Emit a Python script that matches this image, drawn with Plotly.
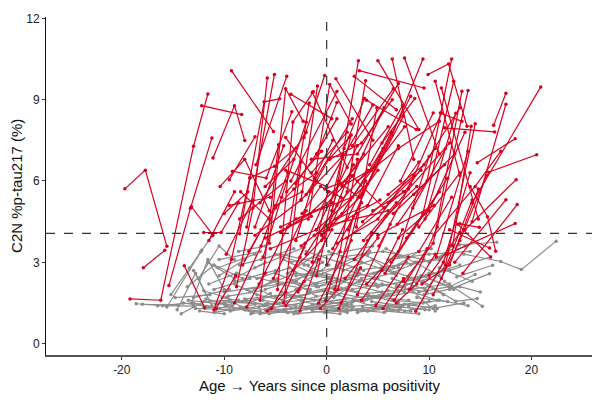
import plotly.graph_objects as go

# red = plasma-positive participants, grey = negative; one list per participant
red_years = [
    [-19.7, -17.7, -15.6], [-17.9, -15.8], [-19.2, -16.2, -13.0, -11.6], [-15.4, -13.3, -11.2],
    [-13.9, -11.9], [-12.2, -8.3], [-11.1, -9.0, -8.0], [-9.3, -5.2], [-13.2, -11.1],
    [-11.0, -9.3, -7.5], [-9.5, -7.0], [-8.8, -7.2, -5.8], [-7.8, -5.1], [-6.9, -3.9],
    [-9.2, -5.9, -3.4], [-10.0, -7.7], [-8.5, -6.1, -4.6], [-12.0, -10.3, -8.6], [-6.5, -4.7],
    [-7.5, -5.1, -3.0], [-5.6, -4.0, -2.3], [-10.8, -8.9], [-8.2, -6.4], [-6.2, -4.4, -2.0],
    [-4.8, -3.3, -1.3], [-3.6, -1.7], [-5.0, -3.2, -1.0], [-4.2, -2.5], [-3.0, -1.2, 0.6],
    [-2.5, -0.9], [-2.2, -0.2], [-1.8, 0.3, 2.4], [-1.0, 0.9, 3.1], [-0.5, 1.6],
    [0.2, 2.0, 3.8], [3.2, 9.5], [9.9, 11.9, 13.7], [11.1, 13.2], [11.5, 16.4],
    [16.3, 17.5], [14.2, 17.5], [15.8, 20.5], [14.7, 18.4], [14.2, 20.9], [13.5, 18.5],
    [-5.2, -2.0], [-4.5, -1.6, 1.4], [-3.9, -0.5], [-3.3, -0.3, 2.6], [-2.8, 0.5],
    [-2.0, 1.0, 4.0], [-1.5, 2.0], [-1.2, 2.0, 5.2], [-0.8, 2.4], [-0.4, 2.6, 5.6],
    [0.0, 3.4], [0.3, 3.4, 6.4], [0.6, 3.8], [0.9, 4.0, 7.0], [1.2, 4.4], [1.5, 4.6, 7.6],
    [1.8, 5.0], [2.1, 5.2, 8.2], [2.4, 5.6], [2.7, 5.8, 8.8], [3.0, 6.2], [3.3, 6.4, 9.4],
    [3.6, 6.8], [3.9, 7.0, 10.0], [4.2, 7.4], [4.5, 7.6, 10.6], [4.8, 8.0], [5.1, 8.2, 11.2],
    [5.4, 8.6], [5.7, 8.8, 11.8], [6.0, 9.2], [6.3, 9.4, 12.4], [6.6, 9.8], [6.9, 9.8, 12.2],
    [7.2, 10.4], [7.5, 10.4, 13.2], [7.8, 11.0], [8.1, 10.8, 13.8], [8.4, 11.6],
    [8.7, 11.4, 14.0], [9.0, 12.2], [9.3, 12.0, 14.8], [9.6, 12.6], [10.0, 13.0],
    [10.4, 13.0, 15.6], [10.7, 13.8], [11.2, 14.2], [11.6, 14.5], [12.3, 14.1], [12.8, 16.0],
    [-9.8, -7.2], [-9.0, -6.4, -3.8], [-8.4, -5.6], [-7.6, -5.0, -2.4], [-7.0, -4.2],
    [-6.6, -3.8, -1.2], [-6.0, -3.2], [-5.4, -2.6, 0.2], [-11.5, -9.0], [-10.4, -8.0, -5.6],
    [-3.0, -1.0, 1.0], [-2.4, -0.6, 1.4], [-1.6, 0.2, 2.2], [-0.9, 1.0], [-0.2, 1.8, 3.6],
    [0.5, 2.4], [1.1, 3.1, 5.0], [1.7, 3.7], [2.3, 4.4, 6.3], [2.9, 4.9], [-1.4, 0.1],
    [-0.1, 1.3, 3.0], [0.8, 2.6], [-4.0, -2.2], [-2.6, -0.8], [-0.6, 1.1, 3.0], [1.4, 3.3],
    [3.4, 5.4, 7.4], [5.5, 7.5], [6.8, 8.8, 10.6], [-7.8, -6.0], [-5.8, -4.0, -2.1],
    [-3.5, 0.5], [0.9, 4.5], [5.0, 9.0], [7.6, 11.0], [6.4, 8.5], [2.7, 6.8], [-1.4, 2.0],
    [10.6, 13.0], [11.2, 14.8], [3.9, 8.75], [-4.0, -1.0], [13.3, 18.6], [12.5, 17.5],
    [13.0, 14.9], [11.8, 18.4], [14.0, 15.7, 16.5], [12.0, 15.9],
    [-6.0, -1.5], [-4.5, 0.5], [-3.0, 2.5], [-1.0, 4.0], [0.5, 6.0], [2.0, 7.5], [3.5, 8.5],
    [5.0, 10.5], [6.5, 11.5], [-7.0, -2.5, 1.5], [-5.5, -1.0, 3.0], [-2.5, 1.5, 5.5],
    [-0.5, 3.5, 7.5], [1.0, 5.0, 9.0], [4.0, 8.0, 12.0], [7.0, 10.0, 13.5], [-8.5, -4.0],
    [-6.5, -2.0], [-4.0, 0.0, 4.5], [-2.0, 2.5], [1.5, 6.0], [3.0, 7.0, 11.0],
    [6.0, 9.5, 13.0], [8.5, 12.5], [-1.5, 3.0, 7.0], [2.5, 6.5], [-3.5, 1.0], [9.0, 13.0],
    [10.5, 14.5, 17.0], [-9.5, -5.5],
]
red_ptau = [
    [5.71, 6.40, 3.59], [2.80, 3.44], [1.65, 1.60, 7.28, 9.21], [2.14, 4.99, 7.59],
    [2.87, 1.31], [8.78, 8.45], [6.85, 8.78, 7.49], [10.07, 7.83], [5.05, 4.00],
    [1.25, 3.10, 6.11], [6.05, 7.63], [2.10, 5.00, 9.80], [4.30, 9.93], [6.60, 9.86],
    [6.36, 6.11, 8.55], [4.80, 5.60], [4.05, 8.92, 9.03], [4.10, 4.10, 5.20], [1.60, 7.34],
    [6.11, 6.54, 7.22], [3.70, 9.40, 8.20], [1.30, 2.50], [2.90, 4.20], [3.20, 5.40, 8.17],
    [2.00, 8.18, 9.29], [4.40, 8.88], [5.00, 5.70, 6.30], [1.50, 6.70], [3.80, 6.10, 7.50],
    [5.30, 9.50], [7.60, 9.89], [4.60, 9.56, 8.10], [2.50, 5.50, 10.44], [3.80, 7.00],
    [4.20, 5.60, 9.70], [10.07, 9.43], [9.93, 10.32, 8.02], [8.51, 8.20], [7.96, 7.81],
    [8.06, 9.24], [4.50, 8.83], [6.32, 6.97], [6.67, 7.56], [5.20, 9.47], [4.20, 6.05],
    [2.40, 4.90], [4.10, 4.80, 5.90], [5.60, 7.10], [2.70, 3.90, 6.60], [1.90, 4.20],
    [3.30, 5.10, 6.40], [6.30, 7.80], [4.00, 4.60, 5.30], [1.50, 3.80], [5.00, 6.20, 8.70],
    [2.90, 5.20], [6.80, 7.40, 9.00], [3.50, 6.00], [4.60, 5.10, 7.30], [1.30, 4.10],
    [5.80, 6.50, 8.00], [2.40, 3.90], [4.20, 6.90, 9.13], [6.20, 5.00], [3.10, 4.70, 5.80],
    [1.80, 4.40], [5.40, 7.70, 10.50], [3.80, 5.20], [2.20, 3.40, 6.90], [6.60, 8.78],
    [4.90, 5.60, 7.20], [1.40, 3.20], [3.60, 5.90, 8.51], [7.40, 9.04], [2.60, 4.40, 6.10],
    [5.20, 6.40], [3.00, 4.80, 9.68], [1.60, 3.50], [4.40, 6.00, 10.50], [6.00, 8.51],
    [2.30, 3.70, 9.31], [3.90, 5.60], [2.00, 4.30, 9.34], [5.00, 7.20], [1.19, 3.00, 6.30],
    [3.40, 5.40], [2.20, 2.90, 5.70], [4.60, 8.50], [2.50, 4.10], [1.80, 3.80, 6.20],
    [3.20, 7.10], [2.40, 5.30], [2.90, 8.11], [3.60, 8.02], [4.40, 3.20],
    [3.30, 5.30], [1.50, 3.60, 6.30], [5.60, 4.60], [3.40, 5.10, 5.60], [4.30, 7.30],
    [2.20, 4.30, 4.90], [5.80, 6.80], [1.30, 3.20, 5.60], [3.80, 5.60], [5.80, 6.80, 4.90],
    [5.90, 7.00, 8.30], [4.80, 5.80, 5.40], [5.60, 6.80, 7.60], [7.00, 8.90], [5.70, 6.00, 7.00],
    [4.90, 7.70], [6.00, 5.40, 6.40], [7.20, 9.04], [5.30, 6.40, 7.80], [4.30, 8.70], [3.00, 5.60],
    [1.60, 3.40, 6.80], [2.00, 4.70], [1.40, 2.30], [1.20, 3.10], [1.30, 2.00, 4.80], [1.50, 2.80],
    [1.60, 2.70, 4.20], [1.30, 2.40], [1.50, 2.20, 3.30], [1.35, 2.60], [1.20, 1.90, 3.70],
    [9.20, 8.30], [9.77, 7.50], [10.44, 7.90], [10.54, 7.00], [10.50, 6.80], [9.86, 8.63], [9.27, 6.50],
    [9.68, 6.20], [9.43, 4.60], [8.98, 7.90], [7.60, 6.00], [2.60, 5.13], [3.00, 5.31],
    [4.42, 4.29], [3.30, 4.43], [5.80, 4.68, 3.41], [4.20, 3.53],
    [3.90, 4.70], [4.30, 5.20], [4.60, 5.40], [4.20, 5.90], [4.40, 4.90], [3.90, 5.60], [4.50, 6.20],
    [4.00, 5.10], [4.80, 6.60], [4.00, 5.30, 6.90], [3.50, 4.20, 7.30], [3.60, 4.80, 7.20],
    [4.00, 5.50, 8.40], [3.70, 4.60, 6.70], [3.80, 5.70, 7.40], [3.90, 4.90, 7.80], [4.60, 6.00],
    [5.20, 7.80], [6.40, 5.80, 8.80], [5.50, 8.30], [5.90, 8.00], [6.00, 7.20, 8.20],
    [5.50, 6.60, 8.70], [5.50, 7.00], [6.80, 7.00, 9.60], [7.30, 9.40], [6.00, 9.30], [4.30, 6.30],
    [4.00, 5.80, 7.10], [5.10, 5.40],
]

grey_years = [
    [-18.6, -16.0, -13.0], [-18.0, -14.5], [-14.2, -12.0, -9.5], [-15.2, -13.4, -12.3],
    [-15.6, -12.2, -11.2], [-14.0, -11.5], [-13.0, -10.9, -8.6], [-12.5, -10.5, -9.0],
    [-11.8, -9.2], [-12.0, -9.8, -7.9], [-11.0, -8.5, -6.5], [-10.5, -8.0], [-10.2, -7.5, -5.5],
    [-9.8, -7.2], [-9.0, -6.8, -4.3], [-8.6, -6.0], [-8.0, -5.6, -3.5], [-7.5, -4.8],
    [-7.0, -4.5, -2.2], [-6.6, -4.0], [-6.0, -3.4, -1.0], [-5.5, -2.8], [-5.0, -2.5, 0.2],
    [-4.6, -1.8], [-4.2, -1.5, 1.0], [-3.8, -1.2], [-3.4, -0.8, 1.6], [-3.0, -0.4],
    [-2.6, 0.0, 2.4], [-2.2, 0.6], [-1.8, 0.9, 3.2], [-1.4, 1.3], [-1.0, 1.7, 4.0],
    [-0.6, 2.0], [-0.2, 2.6, 5.0], [0.3, 3.0], [0.7, 3.4, 5.8], [1.2, 4.0], [1.6, 4.5, 6.8],
    [2.0, 5.0], [2.5, 5.4, 7.6], [3.0, 6.0], [3.5, 6.5, 9.0], [4.0, 7.0], [4.6, 7.6, 10.0],
    [5.2, 8.2], [5.8, 8.6, 11.0], [6.4, 9.4], [7.0, 10.0, 12.4], [7.6, 10.6],
    [8.2, 11.2, 13.5], [8.8, 11.8], [9.4, 12.6, 14.7], [10.0, 13.0], [10.8, 12.2, 16.6],
    [11.5, 15.2], [12.7, 16.2], [13.4, 17.0, 19.0, 22.4], [12.0, 15.9], [9.0, 12.0, 14.5],
    [-13.5, -10.0], [-12.8, -9.5, -7.0], [-11.5, -8.8], [-10.8, -7.8, -5.2], [-10.0, -6.6],
    [-9.4, -6.2, -3.8], [-8.8, -5.4], [-8.2, -5.0, -2.6], [-7.4, -4.2], [-6.8, -3.6, -1.2],
    [-6.2, -3.0], [-5.6, -2.4, 0.0], [-5.0, -1.8], [-4.4, -1.2, 1.2], [-3.8, -0.6],
    [-3.2, 0.0, 2.6], [-2.6, 0.6], [-2.0, 1.2, 3.6], [-1.4, 1.8], [-0.8, 2.4, 4.8],
    [-0.2, 3.0], [0.4, 3.6, 6.0], [1.0, 4.2], [1.6, 4.8, 7.2], [2.2, 5.4], [2.8, 6.0, 8.4],
    [3.4, 6.6], [4.0, 7.2, 9.6], [4.6, 7.8], [5.2, 8.4, 10.8], [5.8, 9.0], [6.4, 9.6, 11.5],
    [7.0, 10.2], [7.6, 10.8], [8.2, 10.6], [-16.5, -13.0, -10.5], [-14.8, -11.4],
    [-13.6, -11.0, -8.2], [-12.4, -10.0], [-11.6, -9.0, -6.0], [-10.6, -7.0],
    [-9.6, -6.4, -4.0], [-8.4, -5.8], [-7.8, -4.6, -2.0], [-6.4, -3.2], [-5.8, -2.6, -0.2],
    [-4.8, -1.6], [-4.0, -0.8, 1.8], [-3.0, 0.2], [-2.4, 0.8, 3.2], [-1.6, 1.6],
    [-0.6, 2.6, 5.2], [0.2, 3.4], [1.4, 4.6, 7.0], [2.4, 5.6], [3.2, 6.4, 8.8], [4.4, 7.4],
    [5.4, 8.6, 11.4], [6.8, 9.8], [8.0, 11.0, 13.8], [9.2, 12.2], [10.4, 13.4], [11.0, 14.2],
    [-14.6, -12.8, -11.2], [-13.2, -11.6, -10.0],
    [-12.0, -8.0], [-10.0, -6.0, -2.5], [-8.0, -4.0, 0.0], [-6.0, -2.0, 2.0], [-4.0, 0.0, 4.0],
    [-2.0, 2.0, 6.0], [0.0, 4.0, 8.0], [2.0, 6.0, 10.0], [4.0, 8.0, 12.0], [6.0, 10.0],
    [-11.0, -7.5], [-9.0, -5.0], [-7.0, -3.0, 0.5], [-5.0, -1.0, 3.0], [-3.0, 1.0, 5.0],
    [-1.0, 3.0, 7.0], [1.0, 5.0, 9.0], [3.0, 7.0, 11.0], [5.0, 9.0, 13.0], [8.0, 12.0, 16.0],
    [-13.0, -9.5], [-6.5, -3.0], [-1.5, 2.0], [3.5, 7.0], [9.5, 13.0, 15.0],
    [-8.5, -4.5, -1.0], [-3.5, 0.5, 4.5], [1.5, 5.5, 9.5], [6.0, 10.0, 14.0], [-10.5, -6.5],
]
grey_ptau = [
    [1.47, 1.40, 1.38], [1.45, 1.42], [1.10, 1.55, 1.60], [1.81, 2.79, 3.38],
    [1.35, 3.44, 3.96], [1.50, 1.35], [2.70, 1.20, 1.60], [2.40, 3.60, 3.10],
    [1.65, 1.40], [1.95, 1.70, 1.25], [1.15, 1.30, 1.20], [2.50, 3.10], [1.70, 1.50, 1.85],
    [1.40, 1.15], [2.20, 1.80, 1.60], [3.40, 3.60], [1.25, 1.10, 1.30], [1.90, 2.40],
    [2.80, 3.20, 3.55], [1.35, 1.55], [2.00, 2.30, 1.75], [1.20, 1.12], [2.60, 2.20, 2.90],
    [1.50, 1.85], [3.10, 2.60, 2.40], [1.15, 1.30], [1.70, 1.40, 1.55], [2.30, 3.00],
    [1.40, 1.25, 1.45], [2.90, 2.50], [1.90, 2.10, 2.60], [1.20, 1.10], [2.50, 2.90, 3.30],
    [1.60, 1.40], [1.30, 1.55, 1.70], [2.20, 1.90], [1.70, 2.40, 2.80], [1.25, 1.20], [2.70, 3.10, 2.50],
    [1.50, 1.70], [2.00, 2.20, 1.90], [1.15, 1.35], [3.30, 2.80, 3.40], [1.80, 1.50], [2.40, 2.10, 2.60],
    [1.30, 1.20], [3.50, 3.00, 2.50], [1.60, 1.50], [2.10, 2.40, 2.00], [1.20, 1.40],
    [2.90, 3.20, 3.60], [1.70, 1.55], [2.30, 1.56, 1.66], [3.00, 3.65], [2.60, 3.63, 3.74],
    [2.30, 1.38], [2.46, 2.89], [3.30, 3.03, 2.73, 3.78], [2.00, 2.58], [1.90, 2.10, 2.55],
    [1.60, 1.45], [1.30, 1.25, 1.45], [2.20, 2.60], [1.45, 1.60, 1.35], [1.90, 2.10],
    [1.20, 1.40, 1.15], [2.60, 2.30], [1.55, 1.75, 2.00], [1.10, 1.25], [2.40, 2.80, 2.20],
    [1.60, 1.40], [1.30, 1.50, 1.70], [3.30, 2.90], [1.90, 1.60, 1.80], [2.60, 3.40],
    [1.10, 1.20, 1.35], [1.75, 2.05], [3.40, 3.00, 2.70], [1.45, 1.65], [2.10, 2.40, 2.20],
    [1.15, 1.25], [1.85, 1.55, 1.95], [2.90, 3.40], [1.35, 1.45, 1.30], [2.20, 1.90], [1.60, 1.80, 2.10],
    [3.00, 2.60], [1.20, 1.35, 1.25], [2.60, 3.00], [1.70, 1.90, 1.60], [1.20, 1.10], [2.40, 2.00, 2.80],
    [3.20, 3.50], [1.45, 1.30], [2.00, 1.20], [1.40, 1.50, 1.30], [1.70, 1.80],
    [2.10, 2.90, 2.40], [1.20, 1.10], [3.00, 2.40, 3.00], [2.80, 3.30],
    [1.75, 1.95, 1.55], [1.35, 1.25], [2.00, 2.20, 2.50], [3.10, 3.50], [1.50, 1.30, 1.40],
    [2.20, 2.00], [1.25, 1.45, 1.20], [2.00, 2.40], [1.60, 1.90, 2.30], [2.70, 2.30],
    [1.40, 1.60, 1.30], [3.40, 3.00], [2.00, 1.75, 1.90], [1.25, 1.15], [2.30, 2.60, 3.00], [1.55, 1.40],
    [2.80, 2.40, 1.80], [2.10, 1.90], [1.40, 1.60, 1.40], [2.50, 2.10], [1.30, 1.50], [2.80, 2.30],
    [1.25, 2.60, 1.40], [1.50, 3.10, 2.00],
    [1.35, 1.30], [1.55, 1.45, 1.60], [1.65, 1.80, 1.55], [1.25, 1.30, 1.45], [1.70, 1.95, 1.65],
    [1.30, 1.20, 1.35], [1.55, 1.75, 1.60], [1.25, 1.40, 1.55], [1.85, 2.00, 2.20], [1.40, 1.25],
    [2.00, 2.40], [2.30, 2.70], [2.00, 2.60, 2.40], [2.30, 2.10, 2.60], [2.50, 2.80, 2.40],
    [2.20, 2.50, 2.80], [2.30, 2.10, 2.40], [2.70, 2.90, 3.10], [2.10, 2.40, 2.90], [2.40, 2.70, 3.20],
    [1.70, 2.00], [1.10, 1.20], [1.30, 1.15], [1.35, 1.20], [1.80, 2.10, 1.90],
    [2.90, 3.30, 3.00], [3.00, 3.30, 3.60], [3.20, 3.40, 3.10], [3.10, 3.30, 3.40], [3.10, 3.40],
]

x_ticks = [-20, -10, 0, 10, 20]
x_labels = ["-20", "-10", "0", "10", "20"]
y_ticks = [0, 3, 6, 9, 12]
threshold = 4.07

RED = "#d7001f"
GREY = "#8c8c8c"


def joined(groups):
    # one trace per colour, trajectories split by None
    out = []
    for g in groups:
        out += list(g) + [None]
    return out


fig = go.Figure()
for years, vals, col in [(grey_years, grey_ptau, GREY), (red_years, red_ptau, RED)]:
    fig.add_trace(go.Scatter(
        x=joined(years), y=joined(vals), mode="lines+markers",
        line=dict(color=col, width=1.2), marker=dict(color=col, size=3.5),
        connectgaps=False, showlegend=False, hoverinfo="skip",
    ))

fig.add_hline(y=threshold, line=dict(color="#333333", width=1.2, dash="dash"))
fig.add_vline(x=0, line=dict(color="#333333", width=1.2, dash="dash"))

# page body has an 8px margin, so the figure is sized to fit inside the window
fig.update_layout(
    width=592, height=392, plot_bgcolor="white", paper_bgcolor="white",
    margin=dict(l=38, r=7, t=9, b=45, autoexpand=False),
    font=dict(family="Liberation Sans, Arial, sans-serif", size=12, color="#333333"),
)
fig.update_xaxes(
    range=[-27.4, 26], tickvals=x_ticks, ticktext=x_labels, showgrid=False, zeroline=False,
    showline=True, linecolor="#555555", linewidth=1.5, ticks="outside", ticklen=3,
    tickcolor="#333333", tickfont=dict(size=12, color="#222222"), automargin=False,
)
fig.update_yaxes(
    range=[-0.42, 12.05], tickvals=y_ticks, showgrid=False, zeroline=False,
    showline=True, linecolor="#111111", linewidth=1, ticks="outside", ticklen=3,
    tickcolor="#333333", tickfont=dict(size=12, color="#222222"), automargin=False,
)
fig.add_annotation(
    text="Age → Years since plasma positivity", xref="paper", yref="paper",
    x=0.5, y=-0.089, yanchor="middle", showarrow=False, font=dict(size=15, color="#111111"),
)
fig.add_annotation(
    text="C2N %p-tau217 (%)", xref="paper", yref="paper", textangle=-90,
    x=-0.055, y=0.5, xanchor="center", showarrow=False, font=dict(size=15, color="#111111"),
)

fig.write_html("out.html")
